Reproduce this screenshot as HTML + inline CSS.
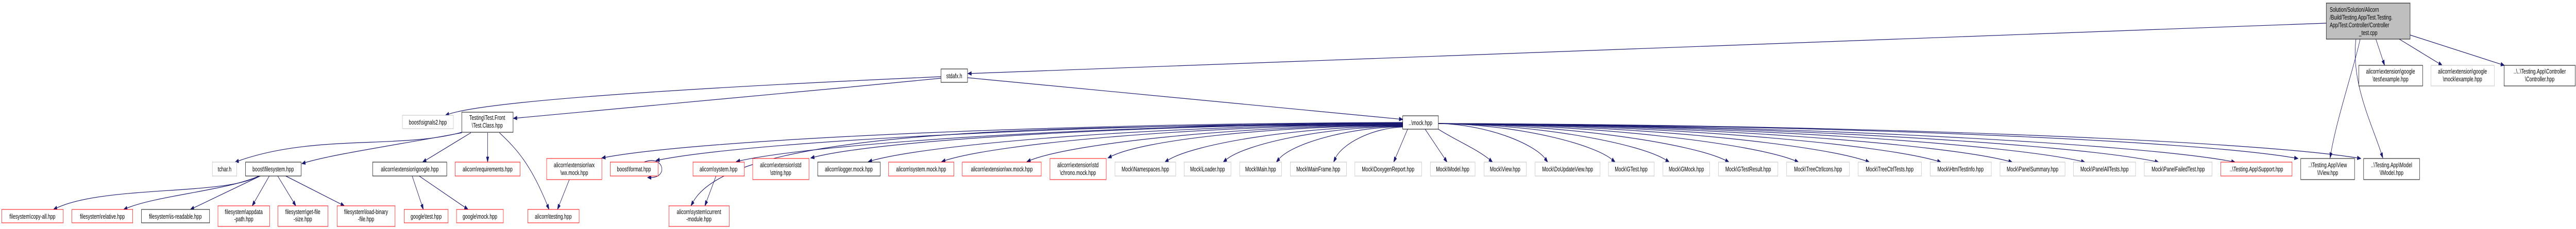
<!DOCTYPE html>
<html><head><meta charset="utf-8"><style>
html,body{margin:0;padding:0;background:#fff;overflow:hidden;width:100vw;height:100vh;}
svg{display:block;position:absolute;left:0;top:0;width:100vw;height:100vh;}
text{font-family:"Liberation Sans",Arial,sans-serif;font-size:13px;fill:#000;}
</style></head><body>
<svg id="g" viewBox="0 0 7375 445" preserveAspectRatio="none" xmlns="http://www.w3.org/2000/svg">
<g id="edges" fill="none" stroke="#191970" stroke-width="1.2"></g>
<g id="arrows" fill="#191970" stroke="#191970"></g>
<g id="nodes" text-anchor="middle">
<rect x="6660" y="6" width="240" height="70" fill="#bfbfbf" stroke="#000"/>
<text x="6670" y="23" text-anchor="start">Solution/Solution/Alicorn</text>
<text x="6670" y="38" text-anchor="start">/Build/Testing.App/Test.Testing.</text>
<text x="6670" y="53" text-anchor="start">App/Test.Controller/Controller</text>
<text x="6780" y="68">_test.cpp</text>
<rect x="6753" y="127" width="183" height="40" fill="#fff" stroke="#000"/>
<text x="6844" y="143">alicorn\extension\google</text><text x="6844" y="158">\test\example.hpp</text>
<rect x="6960" y="127" width="181" height="40" fill="#fff" stroke="#bfbfbf"/>
<text x="7050" y="143">alicorn\extension\google</text><text x="7050" y="158">\mock\example.hpp</text>
<rect x="7169" y="127" width="204" height="40" fill="#fff" stroke="#000"/>
<text x="7271" y="143">..\..\Testing.App\Controller</text><text x="7271" y="158">\Controller.hpp</text>
<rect x="2694" y="134" width="76" height="26" fill="#fff" stroke="#000"/>
<text x="2732" y="152">stdafx.h</text>
<rect x="1152" y="224" width="146" height="26" fill="#fff" stroke="#bfbfbf"/>
<text x="1225" y="242">boost\signals2.hpp</text>
<rect x="1322" y="218" width="147" height="39" fill="#fff" stroke="#000"/>
<text x="1395" y="233">Testing\Test.Front</text><text x="1395" y="248">\Test.Class.hpp</text>
<rect x="4016" y="225" width="102" height="26" fill="#fff" stroke="#000"/>
<text x="4067" y="243">..\mock.hpp</text>
<rect x="608" y="315" width="70" height="27" fill="#fff" stroke="#bfbfbf"/><text x="643" y="333">tchar.h</text>
<rect x="703" y="315" width="159" height="27" fill="#fff" stroke="#000"/><text x="782" y="333">boost\filesystem.hpp</text>
<rect x="1067" y="315" width="212" height="27" fill="#fff" stroke="#000"/><text x="1173" y="333">alicorn\extension\google.hpp</text>
<rect x="1303" y="315" width="186" height="27" fill="#fff" stroke="#f00"/><text x="1396" y="333">alicorn\requirements.hpp</text>
<rect x="1565" y="308" width="158" height="41" fill="#fff" stroke="#f00"/><text x="1644" y="325">alicorn\extension\wx</text><text x="1644" y="340">\wx.mock.hpp</text>
<rect x="1747" y="315" width="137" height="27" fill="#fff" stroke="#f00"/><text x="1815" y="333">boost\format.hpp</text>
<rect x="1984" y="315" width="147" height="27" fill="#fff" stroke="#f00"/><text x="2057" y="333">alicorn\system.hpp</text>
<rect x="2155" y="308" width="161" height="41" fill="#fff" stroke="#f00"/><text x="2235" y="325">alicorn\extension\std</text><text x="2235" y="340">\string.hpp</text>
<rect x="2341" y="315" width="179" height="27" fill="#fff" stroke="#000"/><text x="2430" y="333">alicorn\logger.mock.hpp</text>
<rect x="2544" y="315" width="187" height="27" fill="#fff" stroke="#f00"/><text x="2637" y="333">alicorn\system.mock.hpp</text>
<rect x="2755" y="315" width="226" height="27" fill="#fff" stroke="#f00"/><text x="2868" y="333">alicorn\extension\wx.mock.hpp</text>
<rect x="3006" y="308" width="161" height="41" fill="#fff" stroke="#f00"/><text x="3086" y="325">alicorn\extension\std</text><text x="3086" y="340">\chrono.mock.hpp</text>
<rect x="3192" y="315" width="174" height="27" fill="#fff" stroke="#bfbfbf"/><text x="3279" y="333">Mock\Namespaces.hpp</text>
<rect x="3390" y="315" width="134" height="27" fill="#fff" stroke="#bfbfbf"/><text x="3457" y="333">Mock\Loader.hpp</text>
<rect x="3549" y="315" width="120" height="27" fill="#fff" stroke="#bfbfbf"/><text x="3609" y="333">Mock\Main.hpp</text>
<rect x="3694" y="315" width="161" height="27" fill="#fff" stroke="#bfbfbf"/><text x="3774" y="333">Mock\MainFrame.hpp</text>
<rect x="3879" y="315" width="191" height="27" fill="#fff" stroke="#bfbfbf"/><text x="3974" y="333">Mock\DoxygenReport.hpp</text>
<rect x="4095" y="315" width="128" height="27" fill="#fff" stroke="#bfbfbf"/><text x="4159" y="333">Mock\Model.hpp</text>
<rect x="4249" y="315" width="121" height="27" fill="#fff" stroke="#bfbfbf"/><text x="4309" y="333">Mock\View.hpp</text>
<rect x="4395" y="315" width="186" height="27" fill="#fff" stroke="#bfbfbf"/><text x="4488" y="333">Mock\DoUpdateView.hpp</text>
<rect x="4605" y="315" width="131" height="27" fill="#fff" stroke="#bfbfbf"/><text x="4670" y="333">Mock\GTest.hpp</text>
<rect x="4761" y="315" width="134" height="27" fill="#fff" stroke="#bfbfbf"/><text x="4828" y="333">Mock\GMock.hpp</text>
<rect x="4920" y="315" width="170" height="27" fill="#fff" stroke="#bfbfbf"/><text x="5005" y="333">Mock\GTestResult.hpp</text>
<rect x="5115" y="315" width="180" height="27" fill="#fff" stroke="#bfbfbf"/><text x="5205" y="333">Mock\TreeCtrlIcons.hpp</text>
<rect x="5320" y="315" width="181" height="27" fill="#fff" stroke="#bfbfbf"/><text x="5410" y="333">Mock\TreeCtrlTests.hpp</text>
<rect x="5526" y="315" width="175" height="27" fill="#fff" stroke="#bfbfbf"/><text x="5613" y="333">Mock\HtmlTestInfo.hpp</text>
<rect x="5726" y="315" width="186" height="27" fill="#fff" stroke="#bfbfbf"/><text x="5819" y="333">Mock\PanelSummary.hpp</text>
<rect x="5936" y="315" width="178" height="27" fill="#fff" stroke="#bfbfbf"/><text x="6025" y="333">Mock\PanelAllTests.hpp</text>
<rect x="6139" y="315" width="194" height="27" fill="#fff" stroke="#bfbfbf"/><text x="6236" y="333">Mock\PanelFailedTest.hpp</text>
<rect x="6358" y="315" width="204" height="27" fill="#fff" stroke="#f00"/><text x="6460" y="333">..\Testing.App\Support.hpp</text>
<rect x="6587" y="308" width="154" height="41" fill="#fff" stroke="#000"/><text x="6664" y="325">..\Testing.App\View</text><text x="6664" y="340">\IView.hpp</text>
<rect x="6767" y="308" width="160" height="41" fill="#fff" stroke="#000"/><text x="6847" y="325">..\Testing.App\Model</text><text x="6847" y="340">\IModel.hpp</text>
<rect x="5" y="407" width="176" height="26" fill="#fff" stroke="#f00"/><text x="93" y="425">filesystem\copy-all.hpp</text>
<rect x="206" y="407" width="174" height="26" fill="#fff" stroke="#f00"/><text x="293" y="425">filesystem\relative.hpp</text>
<rect x="405" y="407" width="195" height="26" fill="#fff" stroke="#000"/><text x="502" y="425">filesystem\is-readable.hpp</text>
<rect x="624" y="400" width="148" height="40" fill="#fff" stroke="#f00"/><text x="698" y="416">filesystem\appdata</text><text x="698" y="430">-path.hpp</text>
<rect x="796" y="400" width="143" height="40" fill="#fff" stroke="#f00"/><text x="867" y="416">filesystem\get-file</text><text x="867" y="430">-size.hpp</text>
<rect x="965" y="400" width="166" height="40" fill="#fff" stroke="#f00"/><text x="1048" y="416">filesystem\load-binary</text><text x="1048" y="430">-file.hpp</text>
<rect x="1157" y="407" width="126" height="26" fill="#fff" stroke="#f00"/><text x="1220" y="425">google\test.hpp</text>
<rect x="1307" y="407" width="134" height="26" fill="#fff" stroke="#f00"/><text x="1374" y="425">google\mock.hpp</text>
<rect x="1511" y="407" width="147" height="26" fill="#fff" stroke="#f00"/><text x="1584" y="425">alicorn\testing.hpp</text>
<rect x="1915" y="400" width="173" height="40" fill="#fff" stroke="#f00"/><text x="2001" y="416">alicorn\system\current</text><text x="2001" y="430">-module.hpp</text>
</g>
</svg>
<script>
(function(){
var NS="http://www.w3.org/2000/svg";
var E=document.getElementById("edges"),A=document.getElementById("arrows");
function arrow(bx,by,tx,ty){
  var dx=tx-bx,dy=ty-by,L=Math.sqrt(dx*dx+dy*dy)||1;dx/=L;dy/=L;
  var len=10,w=3.5,px=tx-dx*len,py=ty-dy*len;
  var p=document.createElementNS(NS,"polygon");
  p.setAttribute("points",tx+","+ty+" "+(px-dy*w)+","+(py+dx*w)+" "+(px+dy*w)+","+(py-dx*w));
  A.appendChild(p);
}
function c(sx,sy,c1x,c1y,c2x,c2y,tx,ty){
  var p=document.createElementNS(NS,"path");
  var dx=tx-c2x,dy=ty-c2y,L=Math.sqrt(dx*dx+dy*dy)||1;
  var ex=tx-dx/L*9,ey=ty-dy/L*9;
  p.setAttribute("d","M"+sx+","+sy+" C"+c1x+","+c1y+" "+c2x+","+c2y+" "+ex+","+ey);
  E.appendChild(p);arrow(c2x,c2y,tx,ty);
}
function l(sx,sy,tx,ty){c(sx,sy,sx+(tx-sx)/3,sy+(ty-sy)/3,sx+2*(tx-sx)/3,sy+2*(ty-sy)/3,tx,ty);}
l(6660,45,2771,143);
c(6757,76,6740,130,6690,230,6671,307);
c(6745,76,6730,160,6790,240,6822,307);
l(6802,76,6827,127);
l(6869,76,6992,127);
l(6900,68,7170,127);
l(2770,151,4016,232);
c(2694,149,2000,170,1400,195,1275,224);
c(2694,152,2200,185,1600,222,1470,230);
c(1322,257,1150,290,900,260,673,315);
c(1322,258,1150,280,950,300,864,318);
l(1348,258,1210,315);
l(1396,258,1396,315);
c(1430,258,1480,290,1520,320,1572,407);
c(740,342,650,380,300,360,153,407);
c(742,342,650,370,450,380,354,407);
l(745,342,545,407);
l(771,342,722,400);
l(795,342,847,400);
l(818,342,986,400);
l(1180,342,1212,407);
l(1200,342,1340,407);
l(1630,349,1596,407);
l(2050,342,2018,400);
c(1844,315,1900,300,1915,345,1854,345);
var left=[[1723,307],[1878,312],[2108,314],[2321,307],[2486,314],[2696,314],[2940,314],[3172,307],[3335,315],[3502,315],[3654,315],[3818,315]];
left.forEach(function(t,i){
  var sx=4016,sy=238+Math.min(10,i*0.8);
  var tx=t[0],ty=t[1];
  c(sx,sy,sx-(sx-tx)*0.45,sy+2,tx+(sx-tx)*0.12,ty-35,tx,ty);
});
l(4030,251,3990,315);
l(4080,251,4143,315);
c(4118,251,4160,270,4230,290,4273,315);
var right=[[4431,315],[4624,315],[4779,315],[4950,315],[5149,315],[5352,315],[5557,315],[5761,315],[5969,315],[6180,315],[6399,315],[6579,308],[6759,308]];
right.forEach(function(t,i){
  var sx=4118,sy=240;
  var tx=t[0],ty=t[1];
  c(sx,sy,sx+(tx-sx)*0.45,sy+2,tx-(tx-sx)*0.12,ty-35,tx,ty);
});
c(4016,243,3000,243,2100,250,1978,400);
})();
</script>
</body></html>
